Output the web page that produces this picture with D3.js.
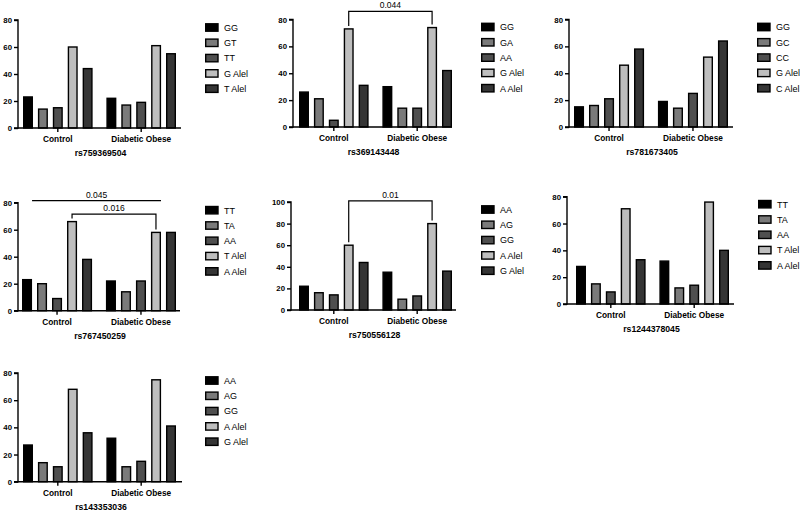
<!DOCTYPE html>
<html><head><meta charset="utf-8">
<script src="https://cdn.jsdelivr.net/npm/d3@7"></script>
<style>body{margin:0;background:#fff}svg{display:block}</style>
</head><body>
<svg id="c" width="800" height="511"></svg>
<script>
// ---- data ----
const groups = ["Control", "Diabetic Obese"];
const titles = ["rs759369504","rs369143448","rs781673405","rs767450259","rs750556128","rs1244378045","rs143353036"];
const seriesNames = [
  ["GG","GT","TT","G Alel","T Alel"],
  ["GG","GA","AA","G Alel","A Alel"],
  ["GG","GC","CC","G Alel","C Alel"],
  ["TT","TA","AA","T Alel","A Alel"],
  ["AA","AG","GG","A Alel","G Alel"],
  ["TT","TA","AA","T Alel","A Alel"],
  ["AA","AG","GG","A Alel","G Alel"]
];
const controlValues = [
  [23,14,15,60,44],
  [26,21,5,73,31],
  [15,16,21,46,58],
  [23,20,9,66,38],
  [22,16,14,60,44],
  [28,15,9,71,33],
  [27,14,11,68,36]
];
const obeseValues = [
  [22,17,19,61,55],
  [30,14,14,74,42],
  [19,14,25,52,64],
  [22,14,22,58,58],
  [35,10,13,80,36],
  [32,12,14,76,40],
  [32,11,15,75,41]
];
const yMax = [80,80,80,80,100,80,80];
const yTicks = [[0,20,40,60,80],[0,20,40,60,80],[0,20,40,60,80],[0,20,40,60,80],[0,20,40,60,80,100],[0,20,40,60,80],[0,20,40,60,80]];
// brackets: panel, label, level, [group, series] left, right, drop?, anchor
const brackets = [
  {panel:1, label:"0.044", level:86, from:[0,3], to:[1,3], drop:true, anchor:"center"},
  {panel:3, label:"0.045", level:81.5, from:[0,0], to:[1,3], drop:false, anchor:"right"},
  {panel:3, label:"0.016", level:71.6, from:[0,3], to:[1,3], drop:true, anchor:"center"},
  {panel:4, label:"0.01", level:101, from:[0,3], to:[1,3], drop:true, anchor:"center"}
];

// ---- layout (positions/styles) ----
const colors = ["#000000","#7a7a7a","#4f4f4f","#bebebe","#353535"];
const layout = [
  {ax0:18,  ax1:181, b0:23,  b1:176, top:20,    zero:128},
  {ax0:293, ax1:452, b0:299, b1:452, top:19.5,  zero:127},
  {ax0:569, ax1:733, b0:574, b1:728, top:19.5,  zero:127},
  {ax0:18,  ax1:180, b0:22,  b1:176, top:202.7, zero:310.7},
  {ax0:291, ax1:456, b0:299, b1:452, top:202,   zero:310},
  {ax0:567, ax1:734, b0:576, b1:729, top:196.7, zero:304},
  {ax0:18,  ax1:182, b0:23,  b1:176, top:373,   zero:481.7}
];
const legendX = [205,481,757,205,481,758,205];
const FONT = "'Liberation Sans', Arial, Helvetica, sans-serif";

const svg = d3.select("#c");

titles.forEach((title, p) => {
  const L = layout[p];
  const g = svg.append("g");
  const y = d3.scaleLinear().domain([0, yMax[p]]).range([L.zero, L.top]);
  const x0 = d3.scaleBand().domain(groups).range([L.b0, L.b1]).paddingInner(0.165).paddingOuter(0);
  const x1 = d3.scaleBand().domain(d3.range(5)).range([0, x0.bandwidth()]).paddingInner(0.33).paddingOuter(0);
  const vals = [controlValues[p], obeseValues[p]];

  // bars
  groups.forEach((grp, gi) => {
    g.selectAll(null).data(vals[gi]).enter().append("rect")
      .attr("x", (d,i) => x0(grp) + x1(i) + 0.7)
      .attr("y", d => y(d))
      .attr("width", x1.bandwidth() - 1.4)
      .attr("height", d => y(0) - y(d))
      .attr("fill", (d,i) => colors[i])
      .attr("stroke", "#000").attr("stroke-width", 1.4);
  });

  // y axis
  const ya = g.append("g").attr("transform", `translate(${L.ax0},0)`)
    .call(d3.axisLeft(y).tickValues(yTicks[p]).tickSize(4).tickPadding(2).tickFormat(d3.format("d")));
  ya.select(".domain").attr("stroke","#000").attr("stroke-width",1.4).attr("d", `M-4,${y(yMax[p])}H0V${y(0)}H-4`);
  ya.selectAll(".tick line").attr("stroke","#000").attr("stroke-width",1.4);
  ya.selectAll(".tick text").attr("font-family",FONT).attr("font-weight","bold").attr("font-size","7.8px").attr("fill","#000");

  // x axis
  const xa = g.append("g").attr("transform", `translate(0,${L.zero})`);
  xa.append("path").attr("d", `M${L.ax0},0H${L.ax1}`).attr("stroke","#000").attr("stroke-width",1.4);
  groups.forEach(grp => {
    const cx = x0(grp) + x0.bandwidth()/2;
    xa.append("line").attr("x1",cx).attr("x2",cx).attr("y1",0).attr("y2",4).attr("stroke","#000").attr("stroke-width",1.4);
    xa.append("text").attr("x",cx).attr("y",14.2).attr("text-anchor","middle")
      .attr("font-family",FONT).attr("font-weight","bold").attr("font-size","8.3px").text(grp);
  });
  // title
  g.append("text").attr("x", (L.ax0 + L.ax1)/2 + 1).attr("y", L.zero + 28)
    .attr("text-anchor","middle").attr("font-family",FONT).attr("font-weight","bold").attr("font-size","8.7px").text(title);

  // legend
  const lg = g.append("g").attr("transform", `translate(${legendX[p]},${L.top + 7.5})`);
  seriesNames[p].forEach((nm, i) => {
    const ry = i * 15.3;
    lg.append("rect").attr("x",0.7).attr("y",ry-3.7).attr("width",12.3).attr("height",7.4)
      .attr("fill",colors[i]).attr("stroke","#000").attr("stroke-width",1.4);
    lg.append("text").attr("x",19).attr("y",ry+3.3).attr("font-family",FONT).attr("font-size","9px").attr("fill","#000").text(nm);
  });

  // brackets
  brackets.filter(b => b.panel === p).forEach(b => {
    const px = ([gi, si]) => x0(groups[gi]) + x1(si) + (b.anchor === "right" ? x1.bandwidth() : x1.bandwidth()/2);
    const xl = px(b.from), xr = px(b.to), yl = y(b.level);
    const vl = vals[b.from[0]][b.from[1]], vr = vals[b.to[0]][b.to[1]];
    let d;
    if (b.drop) d = `M${xl},${y(vl)-3}V${yl}H${xr}V${y(vr)-3}`;
    else d = `M${xl},${yl}H${xr}`;
    g.append("path").attr("d", d).attr("fill","none").attr("stroke","#000").attr("stroke-width",1.2);
    g.append("text").attr("x",(xl+xr)/2).attr("y",yl-3).attr("text-anchor","middle")
      .attr("font-family",FONT).attr("font-size","8.5px").attr("fill","#000").text(b.label);
  });
});
</script>
</body></html>
